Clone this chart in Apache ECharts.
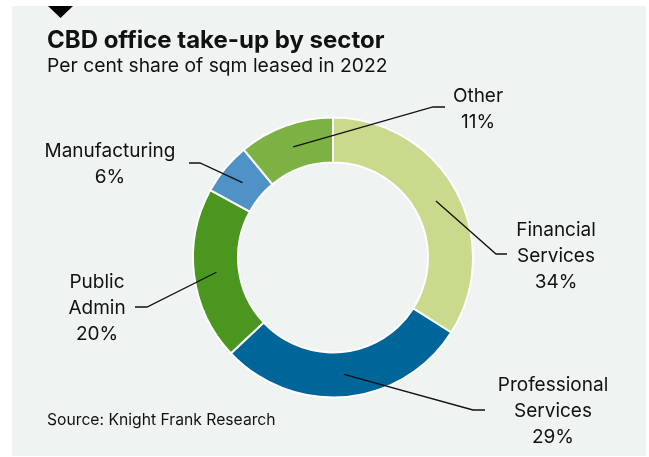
<!DOCTYPE html>
<html>
<head>
<meta charset="utf-8">
<script src="https://cdn.jsdelivr.net/npm/echarts@6/dist/echarts.min.js"></script>
<style>
  html, body { margin: 0; padding: 0; background: #ffffff; }
  #chart { width: 649px; height: 457px; }
</style>
</head>
<body>
<div id="chart"></div>
<script>
// CBD office take-up by sector, share of sqm leased in 2022
const sectors = ['Financial\nServices', 'Professional\nServices', 'Public\nAdmin', 'Manufacturing', 'Other'];
const shares = [34, 29, 20, 6, 11];
const sectorColors = ['#c9da8c', '#00669a', '#4b961f', '#4f93c6', '#7cb243'];

// Label block centres and leader elbows (layout only)
const labelSpots = [
  { x: 556, y: 256, elbow: [496, 254], end: [507, 254] },
  { x: 553, y: 411, elbow: [473, 410], end: [485, 410] },
  { x: 97,  y: 308, elbow: [147, 307], end: [135, 307] },
  { x: 110, y: 164, elbow: [200, 163], end: [189, 163] },
  { x: 478, y: 109, elbow: [433, 107], end: [445, 107] }
];

const FONT = 'Inter, "Noto Sans", sans-serif';
const CX = 333, CY = 257.5, R_IN = 95, R_OUT = 140;
const START_ANGLE = 90;

const total = shares.reduce((a, b) => a + b, 0);
// Anchor of each leader: middle of the ring at the slice's mid angle
const anchors = [];
let cum = 0;
shares.forEach(v => {
  const deg = START_ANGLE - (cum + v / 2) / total * 360;
  const rad = deg * Math.PI / 180;
  const rm = (R_IN + R_OUT) / 2;
  anchors.push([CX + rm * Math.cos(rad), CY - rm * Math.sin(rad)]);
  cum += v;
});

const pieData = sectors.map((name, i) => ({ name: name, value: shares[i] }));

const chart = echarts.init(document.getElementById('chart'), null, { renderer: 'canvas' });

chart.setOption({
  backgroundColor: '#ffffff',
  animation: false,
  graphic: [
    { type: 'rect', z: -10, shape: { x: 12, y: 6, width: 634, height: 450 }, style: { fill: '#eff3f2' } },
    { type: 'polygon', z: -5, shape: { points: [[48, 6], [73, 6], [60.5, 18]] }, style: { fill: '#000000' } },
    { type: 'text', x: 47, y: 41,
      style: { text: 'CBD office take-up by sector', font: 'bold 24px ' + FONT, fill: '#111111', verticalAlign: 'middle' } },
    { type: 'text', x: 47, y: 66,
      style: { text: 'Per cent share of sqm leased in 2022', font: '19.3px ' + FONT, fill: '#111111', verticalAlign: 'middle' } },
    { type: 'text', x: 47, y: 420,
      style: { text: 'Source: Knight Frank Research', font: '15.7px ' + FONT, fill: '#111111', verticalAlign: 'middle' } }
  ],
  series: [
    {
      // coloured ring
      type: 'pie',
      z: 2,
      center: [CX, CY],
      radius: [R_IN, R_OUT],
      startAngle: START_ANGLE,
      clockwise: true,
      silent: true,
      data: pieData.map((d, i) => ({ name: d.name, value: d.value, itemStyle: { color: sectorColors[i] } })),
      itemStyle: { borderColor: '#ffffff', borderWidth: 2 },
      label: { show: false },
      labelLine: { show: false }
    },
    {
      // labels and leader lines drawn on top of the ring
      type: 'pie',
      z: 3,
      center: [CX, CY],
      radius: [R_IN, R_OUT],
      startAngle: START_ANGLE,
      clockwise: true,
      silent: true,
      avoidLabelOverlap: false,
      data: pieData,
      itemStyle: { color: 'rgba(0,0,0,0)', borderWidth: 0 },
      label: {
        show: true,
        position: 'outside',
        formatter: p => p.name + '\n' + p.value + '%',
        fontFamily: FONT,
        fontSize: 19,
        lineHeight: 26,
        color: '#111111',
        align: 'center'
      },
      labelLine: {
        show: true,
        lineStyle: { color: '#111111', width: 1.3 }
      },
      labelLayout: params => {
        const s = labelSpots[params.dataIndex];
        return {
          x: s.x,
          y: s.y,
          align: 'center',
          verticalAlign: 'middle',
          labelLinePoints: [anchors[params.dataIndex], s.elbow, s.end]
        };
      }
    }
  ]
});
</script>
</body>
</html>
